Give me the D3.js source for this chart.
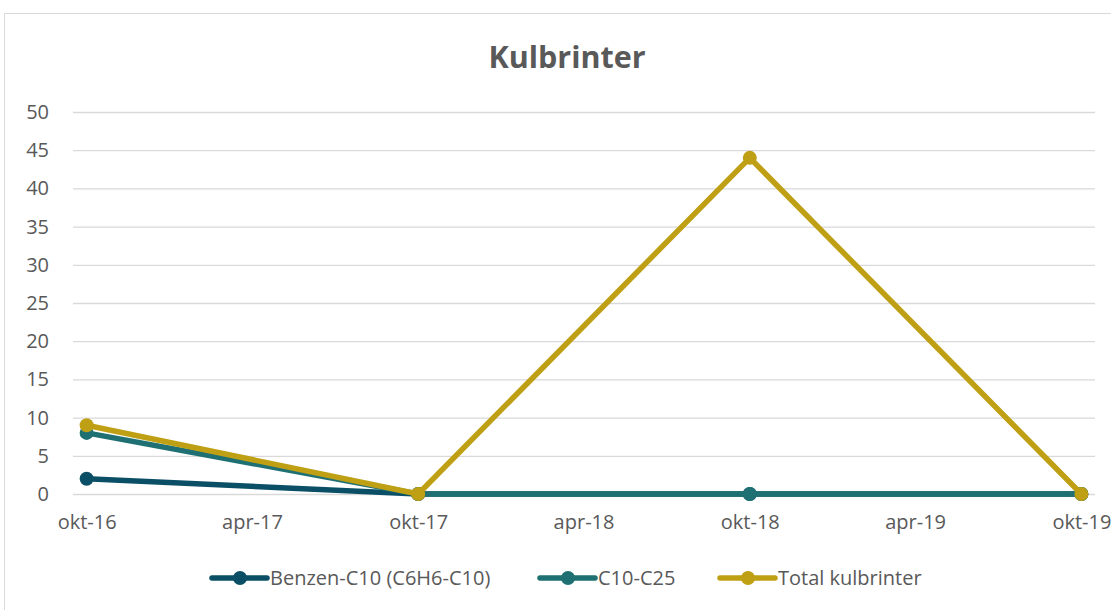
<!DOCTYPE html>
<meta charset="utf-8">
<style>
    body { margin: 0; background: #fff; }
    svg { font-family: "Open Sans", sans-serif; }
    .tick text { fill: #595959; font-size: 20px; font-family: "Open Sans", sans-serif; }
</style>
<script src="https://d3js.org/d3.v7.min.js"></script>
<div id="chart"></div>
<script>
    // data
    var dates = ["2016-10-01", "2017-10-01", "2018-10-01", "2019-10-01"];
    var benzen = [2, 0, 0, 0];
    var c10c25 = [8, 0, 0, 0];
    var total = [9, 0, 44, 0];
    var yTicks = [0, 5, 10, 15, 20, 25, 30, 35, 40, 45, 50];
    var xTicks = ["2016-10-01", "2017-04-01", "2017-10-01", "2018-04-01", "2018-10-01", "2019-04-01", "2019-10-01"];
    var months = ["jan", "feb", "mar", "apr", "maj", "jun", "jul", "aug", "sep", "okt", "nov", "dec"];

    var series = [
        {name: "Benzen-C10 (C6H6-C10)", values: benzen, color: "#0b4f66"},
        {name: "C10-C25", values: c10c25, color: "#1f7073"},
        {name: "Total kulbrinter", values: total, color: "#bfa014"}
    ];

    var W = 1111, H = 610;
    var parse = d3.timeParse("%Y-%m-%d");

    var svg = d3.select("#chart").append("svg")
        .attr("width", W)
        .attr("height", H);

    // chart frame
    svg.append("rect")
        .attr("x", 4.5).attr("y", 13.5)
        .attr("width", 1130).attr("height", 620)
        .attr("fill", "none")
        .attr("stroke", "#d9d9d9");

    svg.append("text")
        .attr("x", 567).attr("y", 68)
        .attr("text-anchor", "middle")
        .style("font-size", "30.5px")
        .style("font-weight", "bold")
        .style("fill", "#595959")
        .text("Kulbrinter");

    // half a month of padding on each side, like a date axis
    var x = d3.scaleTime()
        .domain([parse("2016-09-16"), parse("2019-10-16")])
        .range([73, 1095]);

    var y = d3.scaleLinear()
        .domain([0, 50])
        .range([494, 112]);

    // gridlines + y labels
    var yAxis = svg.append("g")
        .attr("transform", "translate(73,0)")
        .call(d3.axisLeft(y).tickValues(yTicks).tickSize(-(1095 - 73)).tickPadding(24));
    yAxis.select(".domain").remove();
    yAxis.selectAll(".tick line").attr("stroke", "#d9d9d9").attr("stroke-width", 1.3);

    var xAxis = svg.append("g")
        .attr("transform", "translate(0,494)")
        .call(d3.axisBottom(x)
            .tickValues(xTicks.map(parse))
            .tickSize(0)
            .tickPadding(21)
            .tickFormat(function(d) { return months[d.getMonth()] + "-" + d3.timeFormat("%y")(d); }));
    xAxis.select(".domain").remove();

    var line = d3.line()
        .x(function(d, i) { return x(parse(dates[i])); })
        .y(function(d) { return y(d); });

    series.forEach(function(s) {
        svg.append("path")
            .datum(s.values)
            .attr("fill", "none")
            .attr("stroke", s.color)
            .attr("stroke-width", 5.5)
            .attr("stroke-linejoin", "round")
            .attr("stroke-linecap", "round")
            .attr("d", line);

        svg.selectAll(null)
            .data(s.values)
            .enter()
            .append("circle")
            .attr("cx", function(d, i) { return x(parse(dates[i])); })
            .attr("cy", function(d) { return y(d); })
            .attr("r", 7)
            .attr("fill", s.color);
    });

    // legend
    var legendX = [212, 540, 720];
    var legend = svg.selectAll(".legend")
        .data(series)
        .enter()
        .append("g")
        .attr("transform", function(d, i) { return "translate(" + legendX[i] + ",578)"; });

    legend.append("line")
        .attr("x1", 0).attr("x2", 55)
        .attr("stroke", function(d) { return d.color; })
        .attr("stroke-width", 5.5)
        .attr("stroke-linecap", "round");

    legend.append("circle")
        .attr("cx", 28).attr("r", 7)
        .attr("fill", function(d) { return d.color; });

    legend.append("text")
        .attr("x", 58)
        .attr("dy", "0.35em")
        .style("font-size", "20px")
        .style("fill", "#595959")
        .text(function(d) { return d.name; });
</script>
